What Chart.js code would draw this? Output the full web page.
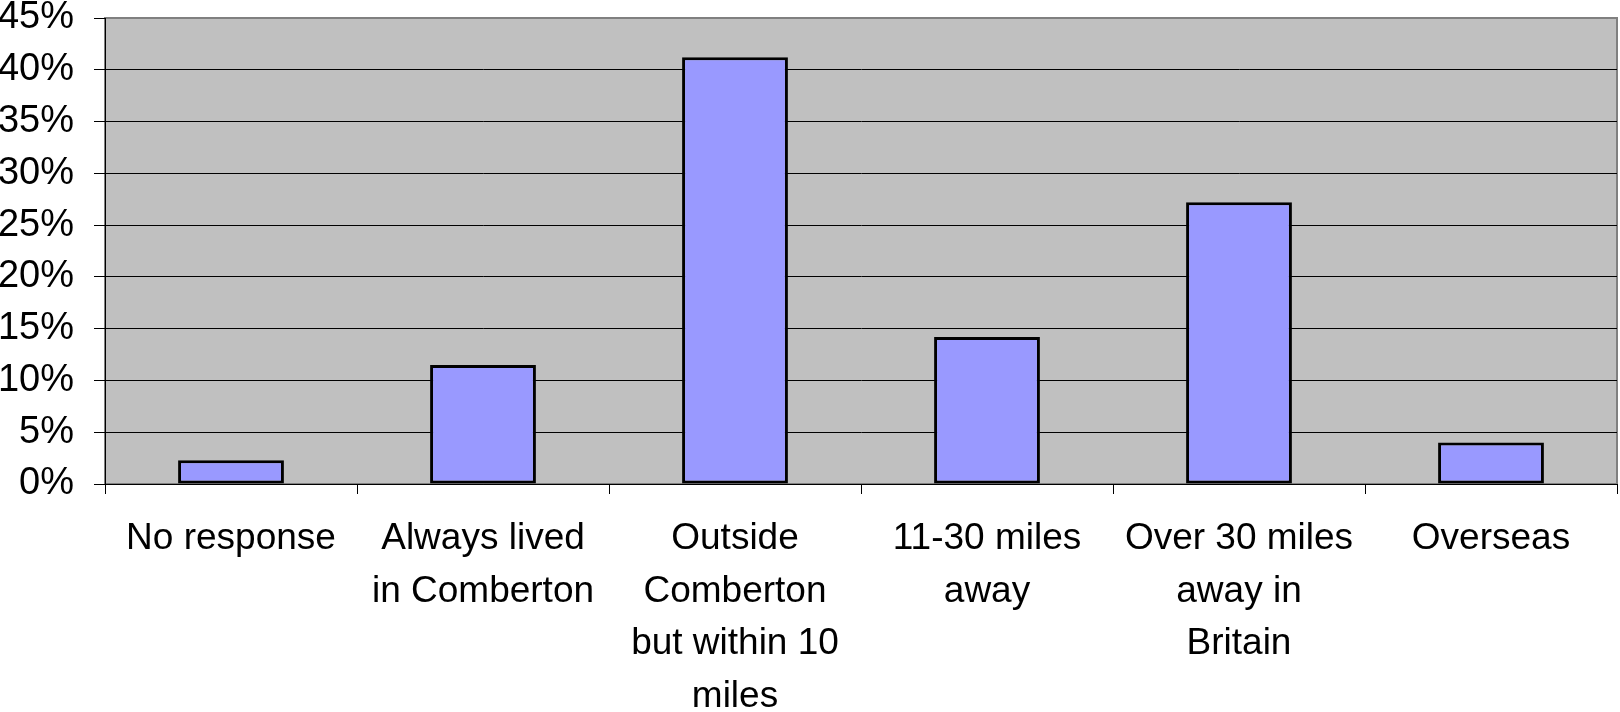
<!DOCTYPE html>
<html>
<head>
<meta charset="utf-8">
<title>Where did you live before Comberton</title>
<script src="https://cdn.jsdelivr.net/npm/chart.js@4.4.1/dist/chart.umd.min.js"></script>
<style>
    html, body { margin: 0; padding: 0; background: #fff; }
    .chart-wrap { width: 1620px; height: 712px; position: relative; }
</style>
</head>
<body>
<div class="chart-wrap">
    <canvas id="originChart"></canvas>
</div>
<script>
// Categories (multi-line, as wrapped in the original)
const categories = [
    ['No response'],
    ['Always lived', 'in Comberton'],
    ['Outside', 'Comberton', 'but within 10', 'miles'],
    ['11-30 miles', 'away'],
    ['Over 30 miles', 'away in', 'Britain'],
    ['Overseas']
];

// Share of respondents, percent
const shareValues = [2.3, 11.5, 41.2, 14.2, 27.2, 4.0];

// Y axis ticks
const yTicks = [0, 5, 10, 15, 20, 25, 30, 35, 40, 45];

const FONT = '"Liberation Sans", Arial, sans-serif';

// Grey plot background with a thin border, like the old Excel look
const plotBackground = {
    id: 'plotBackground',
    beforeDraw(chart) {
        const { ctx, chartArea: a } = chart;
        ctx.save();
        ctx.fillStyle = '#c0c0c0';
        ctx.fillRect(a.left, a.top, a.right - a.left, a.bottom - a.top);
        ctx.strokeStyle = '#808080';
        ctx.lineWidth = 2;
        ctx.strokeRect(a.left, a.top, a.right - a.left, a.bottom - a.top);
        ctx.restore();
    }
};

document.addEventListener('DOMContentLoaded', () => {
    const ctx = document.getElementById('originChart').getContext('2d');

    new Chart(ctx, {
        type: 'bar',
        data: {
            labels: categories,
            datasets: [{
                data: shareValues,
                backgroundColor: '#9999ff',
                borderColor: '#000000',
                borderWidth: 3,
                borderSkipped: false,
                categoryPercentage: 1.0,
                barPercentage: 0.42
            }]
        },
        options: {
            responsive: true,
            maintainAspectRatio: false,
            animation: false,
            layout: {
                padding: { top: 18, right: 3, left: 0, bottom: 0 }
            },
            plugins: {
                legend: { display: false },
                tooltip: { enabled: false }
            },
            scales: {
                x: {
                    grid: {
                        offset: true,
                        drawOnChartArea: false,
                        drawTicks: true,
                        tickLength: 10,
                        color: '#000000'
                    },
                    border: { color: '#000000', width: 1 },
                    ticks: {
                        color: '#000000',
                        padding: 18,
                        maxRotation: 0,
                        autoSkip: false,
                        font: { family: FONT, size: 37, lineHeight: 1.43 }
                    },
                    afterFit(scale) { scale.height = 228; }
                },
                y: {
                    min: 0,
                    max: 45,
                    afterBuildTicks(scale) {
                        scale.ticks = yTicks.map(v => ({ value: v }));
                    },
                    grid: {
                        color: (c) => (c.tick && c.tick.value === 45) ? '#808080' : '#000000',
                        tickColor: '#000000',
                        tickLength: 11,
                        drawTicks: true
                    },
                    border: { color: '#000000', width: 1 },
                    ticks: {
                        color: '#000000',
                        padding: 20,
                        font: { family: FONT, size: 38 },
                        callback: (value) => value + '%'
                    },
                    afterFit(scale) {
                        scale.width = 105;
                        // keep the label overhang from pushing the plot down
                        scale.paddingTop = 0;
                        scale.paddingBottom = 0;
                    }
                }
            }
        },
        plugins: [plotBackground]
    });
});
</script>
</body>
</html>
